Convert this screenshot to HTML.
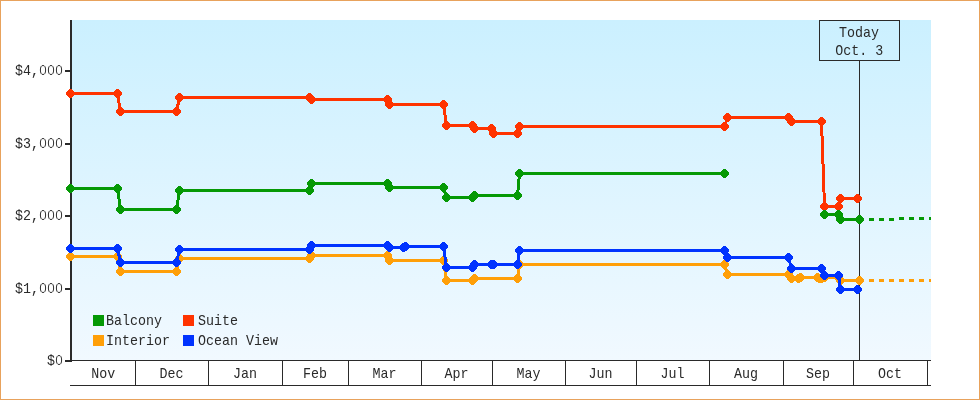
<!DOCTYPE html>
<html><head><meta charset="utf-8"><title>Price History</title>
<style>
html,body{margin:0;padding:0;background:#fff;}
body{width:980px;height:400px;overflow:hidden;}
svg{display:block;}
text{font-family:"Liberation Mono",monospace;font-size:13.33px;fill:#2a2a2a;}
svg{will-change:transform;}
</style></head><body>
<svg width="980" height="400" viewBox="0 0 980 400">
<defs><linearGradient id="bg" x1="0" y1="0" x2="0" y2="1">
<stop offset="0" stop-color="#CBF0FF"/><stop offset="1" stop-color="#F1F9FF"/></linearGradient></defs>
<rect x="0" y="0" width="980" height="400" fill="#fff"/>
<rect x="0.5" y="0.5" width="979" height="399" fill="none" stroke="#E8A25C" stroke-width="1"/>
<rect x="72" y="20" width="859" height="340" fill="url(#bg)"/>

<rect x="70" y="20" width="2" height="342" fill="#2a2a2a"/>
<rect x="65" y="70" width="5" height="2" fill="#2a2a2a"/>
<rect x="65" y="143" width="5" height="2" fill="#2a2a2a"/>
<rect x="65" y="215" width="5" height="2" fill="#2a2a2a"/>
<rect x="65" y="288" width="5" height="2" fill="#2a2a2a"/>
<rect x="65" y="360" width="5" height="2" fill="#2a2a2a"/>
<rect x="72" y="360" width="859" height="1" fill="#2a2a2a"/>
<rect x="70" y="385" width="861" height="1" fill="#2a2a2a"/>
<rect x="135" y="361" width="1" height="24" fill="#2a2a2a"/>
<rect x="208" y="361" width="1" height="24" fill="#2a2a2a"/>
<rect x="282" y="361" width="1" height="24" fill="#2a2a2a"/>
<rect x="348" y="361" width="1" height="24" fill="#2a2a2a"/>
<rect x="421" y="361" width="1" height="24" fill="#2a2a2a"/>
<rect x="492" y="361" width="1" height="24" fill="#2a2a2a"/>
<rect x="565" y="361" width="1" height="24" fill="#2a2a2a"/>
<rect x="636" y="361" width="1" height="24" fill="#2a2a2a"/>
<rect x="709" y="361" width="1" height="24" fill="#2a2a2a"/>
<rect x="783" y="361" width="1" height="24" fill="#2a2a2a"/>
<rect x="853" y="361" width="1" height="24" fill="#2a2a2a"/>
<rect x="927" y="361" width="1" height="24" fill="#2a2a2a"/>
<text transform="translate(39.00,75.00) scale(1,1.080)" text-anchor="end">$4,</text>
<ellipse cx="59.0" cy="70.0" rx="2.6" ry="4.5" fill="none" stroke="#2e2e2e" stroke-width="1"/>
<ellipse cx="51.0" cy="70.0" rx="2.6" ry="4.5" fill="none" stroke="#2e2e2e" stroke-width="1"/>
<ellipse cx="43.0" cy="70.0" rx="2.6" ry="4.5" fill="none" stroke="#2e2e2e" stroke-width="1"/>
<text transform="translate(39.00,148.00) scale(1,1.080)" text-anchor="end">$3,</text>
<ellipse cx="59.0" cy="143.0" rx="2.6" ry="4.5" fill="none" stroke="#2e2e2e" stroke-width="1"/>
<ellipse cx="51.0" cy="143.0" rx="2.6" ry="4.5" fill="none" stroke="#2e2e2e" stroke-width="1"/>
<ellipse cx="43.0" cy="143.0" rx="2.6" ry="4.5" fill="none" stroke="#2e2e2e" stroke-width="1"/>
<text transform="translate(39.00,220.00) scale(1,1.080)" text-anchor="end">$2,</text>
<ellipse cx="59.0" cy="215.0" rx="2.6" ry="4.5" fill="none" stroke="#2e2e2e" stroke-width="1"/>
<ellipse cx="51.0" cy="215.0" rx="2.6" ry="4.5" fill="none" stroke="#2e2e2e" stroke-width="1"/>
<ellipse cx="43.0" cy="215.0" rx="2.6" ry="4.5" fill="none" stroke="#2e2e2e" stroke-width="1"/>
<text transform="translate(39.00,293.00) scale(1,1.080)" text-anchor="end">$1,</text>
<ellipse cx="59.0" cy="288.0" rx="2.6" ry="4.5" fill="none" stroke="#2e2e2e" stroke-width="1"/>
<ellipse cx="51.0" cy="288.0" rx="2.6" ry="4.5" fill="none" stroke="#2e2e2e" stroke-width="1"/>
<ellipse cx="43.0" cy="288.0" rx="2.6" ry="4.5" fill="none" stroke="#2e2e2e" stroke-width="1"/>
<text transform="translate(55.00,365.00) scale(1,1.080)" text-anchor="end">$</text>
<ellipse cx="59.0" cy="360.0" rx="2.6" ry="4.5" fill="none" stroke="#2e2e2e" stroke-width="1"/>
<text transform="translate(103.25,378.00) scale(1,1.080)" text-anchor="middle">Nov</text>
<text transform="translate(171.50,378.00) scale(1,1.080)" text-anchor="middle">Dec</text>
<text transform="translate(245.00,378.00) scale(1,1.080)" text-anchor="middle">Jan</text>
<text transform="translate(315.00,378.00) scale(1,1.080)" text-anchor="middle">Feb</text>
<text transform="translate(384.50,378.00) scale(1,1.080)" text-anchor="middle">Mar</text>
<text transform="translate(456.50,378.00) scale(1,1.080)" text-anchor="middle">Apr</text>
<text transform="translate(528.50,378.00) scale(1,1.080)" text-anchor="middle">May</text>
<text transform="translate(600.50,378.00) scale(1,1.080)" text-anchor="middle">Jun</text>
<text transform="translate(672.50,378.00) scale(1,1.080)" text-anchor="middle">Jul</text>
<text transform="translate(746.00,378.00) scale(1,1.080)" text-anchor="middle">Aug</text>
<text transform="translate(818.00,378.00) scale(1,1.080)" text-anchor="middle">Sep</text>
<text transform="translate(890.00,378.00) scale(1,1.080)" text-anchor="middle">Oct</text>
<rect x="819.5" y="20.5" width="80" height="40" fill="none" stroke="#2a2a2a" stroke-width="1"/>
<text transform="translate(859.00,37.00) scale(1,1.080)" text-anchor="middle">Today</text>
<text transform="translate(859.30,54.70) scale(1,1.080)" text-anchor="middle">Oct. 3</text>
<rect x="93" y="315" width="11" height="11" fill="#059905"/>
<text transform="translate(106.00,325.00) scale(1,1.080)" text-anchor="start">Balcony</text>
<rect x="183" y="315" width="11" height="11" fill="#FF3300"/>
<text transform="translate(198.00,325.00) scale(1,1.080)" text-anchor="start">Suite</text>
<rect x="93" y="335" width="11" height="11" fill="#FF9F08"/>
<text transform="translate(106.00,345.00) scale(1,1.080)" text-anchor="start">Interior</text>
<rect x="183" y="335" width="11" height="11" fill="#0033FF"/>
<text transform="translate(198.00,345.00) scale(1,1.080)" text-anchor="start">Ocean View</text>
<rect x="859" y="61" width="1" height="299" fill="#2a2a2a"/>
<polyline shape-rendering="crispEdges" fill="none" stroke="#FF3300" stroke-width="3" stroke-linejoin="round" points="70.5,93.5 117.5,93.5 120.5,111.5 176.5,111.5 179.5,97.5 309.5,97.5 311.5,99.5 387.5,99.5 389.5,104.5 443.5,104.5 446.5,125.5 472.5,125.5 474.5,128.5 491.5,128.5 493.5,133.5 517.5,133.5 519.5,126.5 724.5,126.5 727.5,117.5 788.5,117.5 791.5,121.5 821.5,121.5 824.5,206.5 838.5,206.5 840.5,198.5 857.5,198.5"/>
<polygon shape-rendering="crispEdges" fill="#FF3300" points="69.5,89.0 71.5,89.0 75.0,92.5 75.0,94.5 71.5,98.0 69.5,98.0 66.0,94.5 66.0,92.5"/>
<polygon shape-rendering="crispEdges" fill="#FF3300" points="116.5,89.0 118.5,89.0 122.0,92.5 122.0,94.5 118.5,98.0 116.5,98.0 113.0,94.5 113.0,92.5"/>
<polygon shape-rendering="crispEdges" fill="#FF3300" points="119.5,107.0 121.5,107.0 125.0,110.5 125.0,112.5 121.5,116.0 119.5,116.0 116.0,112.5 116.0,110.5"/>
<polygon shape-rendering="crispEdges" fill="#FF3300" points="175.5,107.0 177.5,107.0 181.0,110.5 181.0,112.5 177.5,116.0 175.5,116.0 172.0,112.5 172.0,110.5"/>
<polygon shape-rendering="crispEdges" fill="#FF3300" points="178.5,93.0 180.5,93.0 184.0,96.5 184.0,98.5 180.5,102.0 178.5,102.0 175.0,98.5 175.0,96.5"/>
<polygon shape-rendering="crispEdges" fill="#FF3300" points="308.5,93.0 310.5,93.0 314.0,96.5 314.0,98.5 310.5,102.0 308.5,102.0 305.0,98.5 305.0,96.5"/>
<polygon shape-rendering="crispEdges" fill="#FF3300" points="310.5,95.0 312.5,95.0 316.0,98.5 316.0,100.5 312.5,104.0 310.5,104.0 307.0,100.5 307.0,98.5"/>
<polygon shape-rendering="crispEdges" fill="#FF3300" points="386.5,95.0 388.5,95.0 392.0,98.5 392.0,100.5 388.5,104.0 386.5,104.0 383.0,100.5 383.0,98.5"/>
<polygon shape-rendering="crispEdges" fill="#FF3300" points="388.5,100.0 390.5,100.0 394.0,103.5 394.0,105.5 390.5,109.0 388.5,109.0 385.0,105.5 385.0,103.5"/>
<polygon shape-rendering="crispEdges" fill="#FF3300" points="442.5,100.0 444.5,100.0 448.0,103.5 448.0,105.5 444.5,109.0 442.5,109.0 439.0,105.5 439.0,103.5"/>
<polygon shape-rendering="crispEdges" fill="#FF3300" points="445.5,121.0 447.5,121.0 451.0,124.5 451.0,126.5 447.5,130.0 445.5,130.0 442.0,126.5 442.0,124.5"/>
<polygon shape-rendering="crispEdges" fill="#FF3300" points="471.5,121.0 473.5,121.0 477.0,124.5 477.0,126.5 473.5,130.0 471.5,130.0 468.0,126.5 468.0,124.5"/>
<polygon shape-rendering="crispEdges" fill="#FF3300" points="473.5,124.0 475.5,124.0 479.0,127.5 479.0,129.5 475.5,133.0 473.5,133.0 470.0,129.5 470.0,127.5"/>
<polygon shape-rendering="crispEdges" fill="#FF3300" points="490.5,124.0 492.5,124.0 496.0,127.5 496.0,129.5 492.5,133.0 490.5,133.0 487.0,129.5 487.0,127.5"/>
<polygon shape-rendering="crispEdges" fill="#FF3300" points="492.5,129.0 494.5,129.0 498.0,132.5 498.0,134.5 494.5,138.0 492.5,138.0 489.0,134.5 489.0,132.5"/>
<polygon shape-rendering="crispEdges" fill="#FF3300" points="516.5,129.0 518.5,129.0 522.0,132.5 522.0,134.5 518.5,138.0 516.5,138.0 513.0,134.5 513.0,132.5"/>
<polygon shape-rendering="crispEdges" fill="#FF3300" points="518.5,122.0 520.5,122.0 524.0,125.5 524.0,127.5 520.5,131.0 518.5,131.0 515.0,127.5 515.0,125.5"/>
<polygon shape-rendering="crispEdges" fill="#FF3300" points="723.5,122.0 725.5,122.0 729.0,125.5 729.0,127.5 725.5,131.0 723.5,131.0 720.0,127.5 720.0,125.5"/>
<polygon shape-rendering="crispEdges" fill="#FF3300" points="726.5,113.0 728.5,113.0 732.0,116.5 732.0,118.5 728.5,122.0 726.5,122.0 723.0,118.5 723.0,116.5"/>
<polygon shape-rendering="crispEdges" fill="#FF3300" points="787.5,113.0 789.5,113.0 793.0,116.5 793.0,118.5 789.5,122.0 787.5,122.0 784.0,118.5 784.0,116.5"/>
<polygon shape-rendering="crispEdges" fill="#FF3300" points="790.5,117.0 792.5,117.0 796.0,120.5 796.0,122.5 792.5,126.0 790.5,126.0 787.0,122.5 787.0,120.5"/>
<polygon shape-rendering="crispEdges" fill="#FF3300" points="820.5,117.0 822.5,117.0 826.0,120.5 826.0,122.5 822.5,126.0 820.5,126.0 817.0,122.5 817.0,120.5"/>
<polygon shape-rendering="crispEdges" fill="#FF3300" points="823.5,202.0 825.5,202.0 829.0,205.5 829.0,207.5 825.5,211.0 823.5,211.0 820.0,207.5 820.0,205.5"/>
<polygon shape-rendering="crispEdges" fill="#FF3300" points="837.5,202.0 839.5,202.0 843.0,205.5 843.0,207.5 839.5,211.0 837.5,211.0 834.0,207.5 834.0,205.5"/>
<polygon shape-rendering="crispEdges" fill="#FF3300" points="839.5,194.0 841.5,194.0 845.0,197.5 845.0,199.5 841.5,203.0 839.5,203.0 836.0,199.5 836.0,197.5"/>
<polygon shape-rendering="crispEdges" fill="#FF3300" points="856.5,194.0 858.5,194.0 862.0,197.5 862.0,199.5 858.5,203.0 856.5,203.0 853.0,199.5 853.0,197.5"/>

<polyline shape-rendering="crispEdges" fill="none" stroke="#059905" stroke-width="3" stroke-linejoin="round" points="70.5,188.5 117.5,188.5 120.5,209.5 176.5,209.5 179.5,190.5 309.5,190.5 311.5,183.5 387.5,183.5 389.5,187.5 443.5,187.5 446.5,197.5 472.5,197.5 474.5,195.5 517.5,195.5 519.5,173.5 724.5,173.5"/>
<polygon shape-rendering="crispEdges" fill="#059905" points="69.5,184.0 71.5,184.0 75.0,187.5 75.0,189.5 71.5,193.0 69.5,193.0 66.0,189.5 66.0,187.5"/>
<polygon shape-rendering="crispEdges" fill="#059905" points="116.5,184.0 118.5,184.0 122.0,187.5 122.0,189.5 118.5,193.0 116.5,193.0 113.0,189.5 113.0,187.5"/>
<polygon shape-rendering="crispEdges" fill="#059905" points="119.5,205.0 121.5,205.0 125.0,208.5 125.0,210.5 121.5,214.0 119.5,214.0 116.0,210.5 116.0,208.5"/>
<polygon shape-rendering="crispEdges" fill="#059905" points="175.5,205.0 177.5,205.0 181.0,208.5 181.0,210.5 177.5,214.0 175.5,214.0 172.0,210.5 172.0,208.5"/>
<polygon shape-rendering="crispEdges" fill="#059905" points="178.5,186.0 180.5,186.0 184.0,189.5 184.0,191.5 180.5,195.0 178.5,195.0 175.0,191.5 175.0,189.5"/>
<polygon shape-rendering="crispEdges" fill="#059905" points="308.5,186.0 310.5,186.0 314.0,189.5 314.0,191.5 310.5,195.0 308.5,195.0 305.0,191.5 305.0,189.5"/>
<polygon shape-rendering="crispEdges" fill="#059905" points="310.5,179.0 312.5,179.0 316.0,182.5 316.0,184.5 312.5,188.0 310.5,188.0 307.0,184.5 307.0,182.5"/>
<polygon shape-rendering="crispEdges" fill="#059905" points="386.5,179.0 388.5,179.0 392.0,182.5 392.0,184.5 388.5,188.0 386.5,188.0 383.0,184.5 383.0,182.5"/>
<polygon shape-rendering="crispEdges" fill="#059905" points="388.5,183.0 390.5,183.0 394.0,186.5 394.0,188.5 390.5,192.0 388.5,192.0 385.0,188.5 385.0,186.5"/>
<polygon shape-rendering="crispEdges" fill="#059905" points="442.5,183.0 444.5,183.0 448.0,186.5 448.0,188.5 444.5,192.0 442.5,192.0 439.0,188.5 439.0,186.5"/>
<polygon shape-rendering="crispEdges" fill="#059905" points="445.5,193.0 447.5,193.0 451.0,196.5 451.0,198.5 447.5,202.0 445.5,202.0 442.0,198.5 442.0,196.5"/>
<polygon shape-rendering="crispEdges" fill="#059905" points="471.5,193.0 473.5,193.0 477.0,196.5 477.0,198.5 473.5,202.0 471.5,202.0 468.0,198.5 468.0,196.5"/>
<polygon shape-rendering="crispEdges" fill="#059905" points="473.5,191.0 475.5,191.0 479.0,194.5 479.0,196.5 475.5,200.0 473.5,200.0 470.0,196.5 470.0,194.5"/>
<polygon shape-rendering="crispEdges" fill="#059905" points="516.5,191.0 518.5,191.0 522.0,194.5 522.0,196.5 518.5,200.0 516.5,200.0 513.0,196.5 513.0,194.5"/>
<polygon shape-rendering="crispEdges" fill="#059905" points="518.5,169.0 520.5,169.0 524.0,172.5 524.0,174.5 520.5,178.0 518.5,178.0 515.0,174.5 515.0,172.5"/>
<polygon shape-rendering="crispEdges" fill="#059905" points="723.5,169.0 725.5,169.0 729.0,172.5 729.0,174.5 725.5,178.0 723.5,178.0 720.0,174.5 720.0,172.5"/>

<polyline shape-rendering="crispEdges" fill="none" stroke="#059905" stroke-width="3" stroke-linejoin="round" points="824.5,214.5 838.5,214.5 840.5,219.5 859.5,219.5"/>
<polygon shape-rendering="crispEdges" fill="#059905" points="823.5,210.0 825.5,210.0 829.0,213.5 829.0,215.5 825.5,219.0 823.5,219.0 820.0,215.5 820.0,213.5"/>
<polygon shape-rendering="crispEdges" fill="#059905" points="837.5,210.0 839.5,210.0 843.0,213.5 843.0,215.5 839.5,219.0 837.5,219.0 834.0,215.5 834.0,213.5"/>
<polygon shape-rendering="crispEdges" fill="#059905" points="839.5,215.0 841.5,215.0 845.0,218.5 845.0,220.5 841.5,224.0 839.5,224.0 836.0,220.5 836.0,218.5"/>
<polygon shape-rendering="crispEdges" fill="#059905" points="858.5,215.0 860.5,215.0 864.0,218.5 864.0,220.5 860.5,224.0 858.5,224.0 855.0,220.5 855.0,218.5"/>

<rect x="869" y="218" width="5" height="3" fill="#059905"/>
<rect x="879" y="218" width="5" height="3" fill="#059905"/>
<rect x="889" y="218" width="5" height="3" fill="#059905"/>
<rect x="899" y="217" width="5" height="3" fill="#059905"/>
<rect x="909" y="217" width="5" height="3" fill="#059905"/>
<rect x="919" y="217" width="5" height="3" fill="#059905"/>
<rect x="929" y="217" width="2" height="3" fill="#059905"/>
<polyline shape-rendering="crispEdges" fill="none" stroke="#FF9F08" stroke-width="3" stroke-linejoin="round" points="70.5,256.5 117.5,256.5 120.5,271.5 176.5,271.5 179.5,258.5 309.5,258.5 311.5,255.5 387.5,255.5 389.5,260.5 443.5,260.5 446.5,280.5 472.5,280.5 474.5,278.5 517.5,278.5 519.5,264.5 724.5,264.5 727.5,274.5 788.5,274.5 791.5,278.5 798.5,278.5 800.5,277.5 817.5,277.5 819.5,278.5 821.5,278.5 824.5,277.5 838.5,277.5 840.5,280.5 859.5,280.5"/>
<polygon shape-rendering="crispEdges" fill="#FF9F08" points="69.5,252.0 71.5,252.0 75.0,255.5 75.0,257.5 71.5,261.0 69.5,261.0 66.0,257.5 66.0,255.5"/>
<polygon shape-rendering="crispEdges" fill="#FF9F08" points="116.5,252.0 118.5,252.0 122.0,255.5 122.0,257.5 118.5,261.0 116.5,261.0 113.0,257.5 113.0,255.5"/>
<polygon shape-rendering="crispEdges" fill="#FF9F08" points="119.5,267.0 121.5,267.0 125.0,270.5 125.0,272.5 121.5,276.0 119.5,276.0 116.0,272.5 116.0,270.5"/>
<polygon shape-rendering="crispEdges" fill="#FF9F08" points="175.5,267.0 177.5,267.0 181.0,270.5 181.0,272.5 177.5,276.0 175.5,276.0 172.0,272.5 172.0,270.5"/>
<polygon shape-rendering="crispEdges" fill="#FF9F08" points="178.5,254.0 180.5,254.0 184.0,257.5 184.0,259.5 180.5,263.0 178.5,263.0 175.0,259.5 175.0,257.5"/>
<polygon shape-rendering="crispEdges" fill="#FF9F08" points="308.5,254.0 310.5,254.0 314.0,257.5 314.0,259.5 310.5,263.0 308.5,263.0 305.0,259.5 305.0,257.5"/>
<polygon shape-rendering="crispEdges" fill="#FF9F08" points="310.5,251.0 312.5,251.0 316.0,254.5 316.0,256.5 312.5,260.0 310.5,260.0 307.0,256.5 307.0,254.5"/>
<polygon shape-rendering="crispEdges" fill="#FF9F08" points="386.5,251.0 388.5,251.0 392.0,254.5 392.0,256.5 388.5,260.0 386.5,260.0 383.0,256.5 383.0,254.5"/>
<polygon shape-rendering="crispEdges" fill="#FF9F08" points="388.5,256.0 390.5,256.0 394.0,259.5 394.0,261.5 390.5,265.0 388.5,265.0 385.0,261.5 385.0,259.5"/>
<polygon shape-rendering="crispEdges" fill="#FF9F08" points="442.5,256.0 444.5,256.0 448.0,259.5 448.0,261.5 444.5,265.0 442.5,265.0 439.0,261.5 439.0,259.5"/>
<polygon shape-rendering="crispEdges" fill="#FF9F08" points="445.5,276.0 447.5,276.0 451.0,279.5 451.0,281.5 447.5,285.0 445.5,285.0 442.0,281.5 442.0,279.5"/>
<polygon shape-rendering="crispEdges" fill="#FF9F08" points="471.5,276.0 473.5,276.0 477.0,279.5 477.0,281.5 473.5,285.0 471.5,285.0 468.0,281.5 468.0,279.5"/>
<polygon shape-rendering="crispEdges" fill="#FF9F08" points="473.5,274.0 475.5,274.0 479.0,277.5 479.0,279.5 475.5,283.0 473.5,283.0 470.0,279.5 470.0,277.5"/>
<polygon shape-rendering="crispEdges" fill="#FF9F08" points="516.5,274.0 518.5,274.0 522.0,277.5 522.0,279.5 518.5,283.0 516.5,283.0 513.0,279.5 513.0,277.5"/>
<polygon shape-rendering="crispEdges" fill="#FF9F08" points="518.5,260.0 520.5,260.0 524.0,263.5 524.0,265.5 520.5,269.0 518.5,269.0 515.0,265.5 515.0,263.5"/>
<polygon shape-rendering="crispEdges" fill="#FF9F08" points="723.5,260.0 725.5,260.0 729.0,263.5 729.0,265.5 725.5,269.0 723.5,269.0 720.0,265.5 720.0,263.5"/>
<polygon shape-rendering="crispEdges" fill="#FF9F08" points="726.5,270.0 728.5,270.0 732.0,273.5 732.0,275.5 728.5,279.0 726.5,279.0 723.0,275.5 723.0,273.5"/>
<polygon shape-rendering="crispEdges" fill="#FF9F08" points="787.5,270.0 789.5,270.0 793.0,273.5 793.0,275.5 789.5,279.0 787.5,279.0 784.0,275.5 784.0,273.5"/>
<polygon shape-rendering="crispEdges" fill="#FF9F08" points="790.5,274.0 792.5,274.0 796.0,277.5 796.0,279.5 792.5,283.0 790.5,283.0 787.0,279.5 787.0,277.5"/>
<polygon shape-rendering="crispEdges" fill="#FF9F08" points="797.5,274.0 799.5,274.0 803.0,277.5 803.0,279.5 799.5,283.0 797.5,283.0 794.0,279.5 794.0,277.5"/>
<polygon shape-rendering="crispEdges" fill="#FF9F08" points="799.5,273.0 801.5,273.0 805.0,276.5 805.0,278.5 801.5,282.0 799.5,282.0 796.0,278.5 796.0,276.5"/>
<polygon shape-rendering="crispEdges" fill="#FF9F08" points="816.5,273.0 818.5,273.0 822.0,276.5 822.0,278.5 818.5,282.0 816.5,282.0 813.0,278.5 813.0,276.5"/>
<polygon shape-rendering="crispEdges" fill="#FF9F08" points="818.5,274.0 820.5,274.0 824.0,277.5 824.0,279.5 820.5,283.0 818.5,283.0 815.0,279.5 815.0,277.5"/>
<polygon shape-rendering="crispEdges" fill="#FF9F08" points="820.5,274.0 822.5,274.0 826.0,277.5 826.0,279.5 822.5,283.0 820.5,283.0 817.0,279.5 817.0,277.5"/>
<polygon shape-rendering="crispEdges" fill="#FF9F08" points="823.5,273.0 825.5,273.0 829.0,276.5 829.0,278.5 825.5,282.0 823.5,282.0 820.0,278.5 820.0,276.5"/>
<polygon shape-rendering="crispEdges" fill="#FF9F08" points="837.5,273.0 839.5,273.0 843.0,276.5 843.0,278.5 839.5,282.0 837.5,282.0 834.0,278.5 834.0,276.5"/>
<polygon shape-rendering="crispEdges" fill="#FF9F08" points="839.5,276.0 841.5,276.0 845.0,279.5 845.0,281.5 841.5,285.0 839.5,285.0 836.0,281.5 836.0,279.5"/>
<polygon shape-rendering="crispEdges" fill="#FF9F08" points="858.5,276.0 860.5,276.0 864.0,279.5 864.0,281.5 860.5,285.0 858.5,285.0 855.0,281.5 855.0,279.5"/>

<rect x="869" y="279" width="5" height="3" fill="#FF9F08"/>
<rect x="879" y="279" width="5" height="3" fill="#FF9F08"/>
<rect x="889" y="279" width="5" height="3" fill="#FF9F08"/>
<rect x="899" y="279" width="5" height="3" fill="#FF9F08"/>
<rect x="909" y="279" width="5" height="3" fill="#FF9F08"/>
<rect x="919" y="279" width="5" height="3" fill="#FF9F08"/>
<rect x="929" y="279" width="2" height="3" fill="#FF9F08"/>
<polyline shape-rendering="crispEdges" fill="none" stroke="#0033FF" stroke-width="3" stroke-linejoin="round" points="70.5,248.5 117.5,248.5 120.5,262.5 176.5,262.5 179.5,249.5 309.5,249.5 311.5,245.5 387.5,245.5 389.5,247.5 403.5,247.5 405.5,246.5 443.5,246.5 446.5,267.5 472.5,267.5 474.5,264.5 491.5,264.5 493.5,264.5 517.5,264.5 519.5,250.5 724.5,250.5 727.5,257.5 788.5,257.5 791.5,268.5 821.5,268.5 824.5,275.5 838.5,275.5 840.5,289.5 857.5,289.5"/>
<polygon shape-rendering="crispEdges" fill="#0033FF" points="69.5,244.0 71.5,244.0 75.0,247.5 75.0,249.5 71.5,253.0 69.5,253.0 66.0,249.5 66.0,247.5"/>
<polygon shape-rendering="crispEdges" fill="#0033FF" points="116.5,244.0 118.5,244.0 122.0,247.5 122.0,249.5 118.5,253.0 116.5,253.0 113.0,249.5 113.0,247.5"/>
<polygon shape-rendering="crispEdges" fill="#0033FF" points="119.5,258.0 121.5,258.0 125.0,261.5 125.0,263.5 121.5,267.0 119.5,267.0 116.0,263.5 116.0,261.5"/>
<polygon shape-rendering="crispEdges" fill="#0033FF" points="175.5,258.0 177.5,258.0 181.0,261.5 181.0,263.5 177.5,267.0 175.5,267.0 172.0,263.5 172.0,261.5"/>
<polygon shape-rendering="crispEdges" fill="#0033FF" points="178.5,245.0 180.5,245.0 184.0,248.5 184.0,250.5 180.5,254.0 178.5,254.0 175.0,250.5 175.0,248.5"/>
<polygon shape-rendering="crispEdges" fill="#0033FF" points="308.5,245.0 310.5,245.0 314.0,248.5 314.0,250.5 310.5,254.0 308.5,254.0 305.0,250.5 305.0,248.5"/>
<polygon shape-rendering="crispEdges" fill="#0033FF" points="310.5,241.0 312.5,241.0 316.0,244.5 316.0,246.5 312.5,250.0 310.5,250.0 307.0,246.5 307.0,244.5"/>
<polygon shape-rendering="crispEdges" fill="#0033FF" points="386.5,241.0 388.5,241.0 392.0,244.5 392.0,246.5 388.5,250.0 386.5,250.0 383.0,246.5 383.0,244.5"/>
<polygon shape-rendering="crispEdges" fill="#0033FF" points="388.5,243.0 390.5,243.0 394.0,246.5 394.0,248.5 390.5,252.0 388.5,252.0 385.0,248.5 385.0,246.5"/>
<polygon shape-rendering="crispEdges" fill="#0033FF" points="402.5,243.0 404.5,243.0 408.0,246.5 408.0,248.5 404.5,252.0 402.5,252.0 399.0,248.5 399.0,246.5"/>
<polygon shape-rendering="crispEdges" fill="#0033FF" points="404.5,242.0 406.5,242.0 410.0,245.5 410.0,247.5 406.5,251.0 404.5,251.0 401.0,247.5 401.0,245.5"/>
<polygon shape-rendering="crispEdges" fill="#0033FF" points="442.5,242.0 444.5,242.0 448.0,245.5 448.0,247.5 444.5,251.0 442.5,251.0 439.0,247.5 439.0,245.5"/>
<polygon shape-rendering="crispEdges" fill="#0033FF" points="445.5,263.0 447.5,263.0 451.0,266.5 451.0,268.5 447.5,272.0 445.5,272.0 442.0,268.5 442.0,266.5"/>
<polygon shape-rendering="crispEdges" fill="#0033FF" points="471.5,263.0 473.5,263.0 477.0,266.5 477.0,268.5 473.5,272.0 471.5,272.0 468.0,268.5 468.0,266.5"/>
<polygon shape-rendering="crispEdges" fill="#0033FF" points="473.5,260.0 475.5,260.0 479.0,263.5 479.0,265.5 475.5,269.0 473.5,269.0 470.0,265.5 470.0,263.5"/>
<polygon shape-rendering="crispEdges" fill="#0033FF" points="490.5,260.0 492.5,260.0 496.0,263.5 496.0,265.5 492.5,269.0 490.5,269.0 487.0,265.5 487.0,263.5"/>
<polygon shape-rendering="crispEdges" fill="#0033FF" points="492.5,260.0 494.5,260.0 498.0,263.5 498.0,265.5 494.5,269.0 492.5,269.0 489.0,265.5 489.0,263.5"/>
<polygon shape-rendering="crispEdges" fill="#0033FF" points="516.5,260.0 518.5,260.0 522.0,263.5 522.0,265.5 518.5,269.0 516.5,269.0 513.0,265.5 513.0,263.5"/>
<polygon shape-rendering="crispEdges" fill="#0033FF" points="518.5,246.0 520.5,246.0 524.0,249.5 524.0,251.5 520.5,255.0 518.5,255.0 515.0,251.5 515.0,249.5"/>
<polygon shape-rendering="crispEdges" fill="#0033FF" points="723.5,246.0 725.5,246.0 729.0,249.5 729.0,251.5 725.5,255.0 723.5,255.0 720.0,251.5 720.0,249.5"/>
<polygon shape-rendering="crispEdges" fill="#0033FF" points="726.5,253.0 728.5,253.0 732.0,256.5 732.0,258.5 728.5,262.0 726.5,262.0 723.0,258.5 723.0,256.5"/>
<polygon shape-rendering="crispEdges" fill="#0033FF" points="787.5,253.0 789.5,253.0 793.0,256.5 793.0,258.5 789.5,262.0 787.5,262.0 784.0,258.5 784.0,256.5"/>
<polygon shape-rendering="crispEdges" fill="#0033FF" points="790.5,264.0 792.5,264.0 796.0,267.5 796.0,269.5 792.5,273.0 790.5,273.0 787.0,269.5 787.0,267.5"/>
<polygon shape-rendering="crispEdges" fill="#0033FF" points="820.5,264.0 822.5,264.0 826.0,267.5 826.0,269.5 822.5,273.0 820.5,273.0 817.0,269.5 817.0,267.5"/>
<polygon shape-rendering="crispEdges" fill="#0033FF" points="823.5,271.0 825.5,271.0 829.0,274.5 829.0,276.5 825.5,280.0 823.5,280.0 820.0,276.5 820.0,274.5"/>
<polygon shape-rendering="crispEdges" fill="#0033FF" points="837.5,271.0 839.5,271.0 843.0,274.5 843.0,276.5 839.5,280.0 837.5,280.0 834.0,276.5 834.0,274.5"/>
<polygon shape-rendering="crispEdges" fill="#0033FF" points="839.5,285.0 841.5,285.0 845.0,288.5 845.0,290.5 841.5,294.0 839.5,294.0 836.0,290.5 836.0,288.5"/>
<polygon shape-rendering="crispEdges" fill="#0033FF" points="856.5,285.0 858.5,285.0 862.0,288.5 862.0,290.5 858.5,294.0 856.5,294.0 853.0,290.5 853.0,288.5"/>

</svg></body></html>
